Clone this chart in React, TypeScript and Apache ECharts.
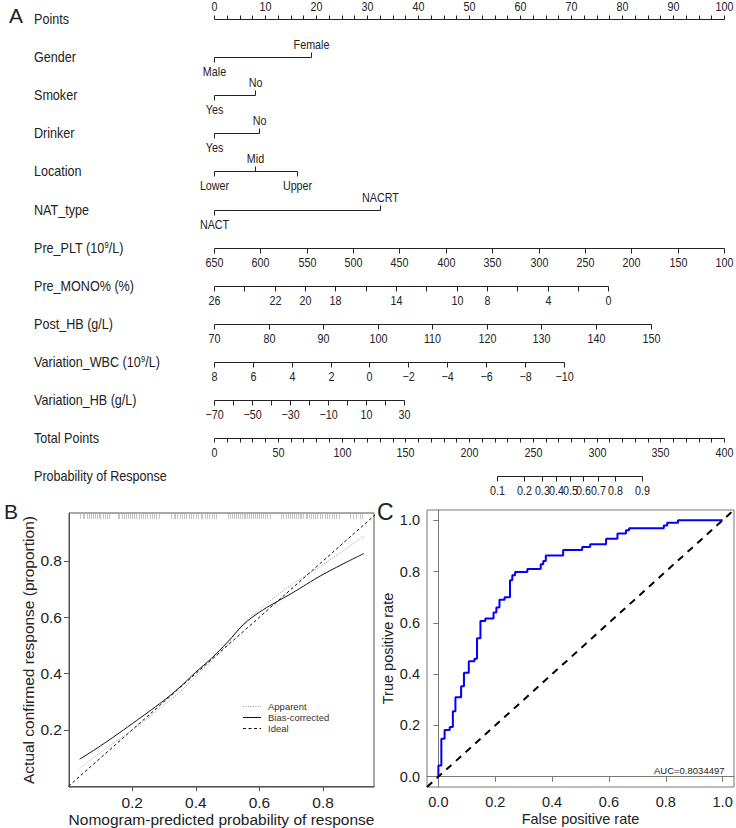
import React, { useEffect, useRef } from "react";
import * as echarts from "echarts";

// ---------------- Panel A: nomogram ----------------
const rowLabels = [
  "Points",
  "Gender",
  "Smoker",
  "Drinker",
  "Location",
  "NAT_type",
  "{t|Pre_PLT (10}{s|9}{t|/L)}",
  "Pre_MONO% (%)",
  "Post_HB (g/L)",
  "{t|Variation_WBC (10}{s|9}{t|/L)}",
  "Variation_HB (g/L)",
  "Total Points",
  "Probability of Response",
];

const pointsTicks = [
  0, 2.5, 5, 7.5, 10, 12.5, 15, 17.5, 20, 22.5, 25, 27.5, 30, 32.5, 35, 37.5, 40, 42.5, 45, 47.5, 50,
  52.5, 55, 57.5, 60, 62.5, 65, 67.5, 70, 72.5, 75, 77.5, 80, 82.5, 85, 87.5, 90, 92.5, 95, 97.5, 100,
];
const pointsLabels = [0, 10, 20, 30, 40, 50, 60, 70, 80, 90, 100];

const genderLevels = ["Male", "Female"];
const genderPoints = [0, 19];
const genderSide = ["below", "above"];

const smokerLevels = ["Yes", "No"];
const smokerPoints = [0, 8];
const smokerSide = ["below", "above"];

const drinkerLevels = ["Yes", "No"];
const drinkerPoints = [0, 8.9];
const drinkerSide = ["below", "above"];

const locationLevels = ["Lower", "Mid", "Upper"];
const locationPoints = [0, 8, 16.3];
const locationSide = ["below", "above", "below"];

const natLevels = ["NACT", "NACRT"];
const natPoints = [0, 32.6];
const natSide = ["below", "above"];

const pltRange = [650, 100];
const pltMaxPoints = 100;
const pltTicks = [650, 600, 550, 500, 450, 400, 350, 300, 250, 200, 150, 100];
const pltLabels = [650, 600, 550, 500, 450, 400, 350, 300, 250, 200, 150, 100];

const monoRange = [26, 0];
const monoMaxPoints = 77.3;
const monoTicks = [26, 24, 22, 20, 18, 16, 14, 12, 10, 8, 6, 4, 2, 0];
const monoLabels = [26, 22, 20, 18, 14, 10, 8, 4, 0];

const postHbRange = [70, 150];
const postHbMaxPoints = 85.6;
const postHbTicks = [70, 80, 90, 100, 110, 120, 130, 140, 150];
const postHbLabels = [70, 80, 90, 100, 110, 120, 130, 140, 150];

const wbcRange = [8, -10];
const wbcMaxPoints = 68.6;
const wbcTicks = [8, 6, 4, 2, 0, -2, -4, -6, -8, -10];
const wbcLabels = [8, 6, 4, 2, 0, -2, -4, -6, -8, -10];

const varHbRange = [-70, 30];
const varHbMaxPoints = 37.2;
const varHbTicks = [-70, -60, -50, -40, -30, -20, -10, 0, 10, 20, 30];
const varHbLabels = [-70, -50, -30, -10, 10, 30];

const totalMax = 400;
const totalTicks = [
  0, 10, 20, 30, 40, 50, 60, 70, 80, 90, 100, 110, 120, 130, 140, 150, 160, 170, 180, 190, 200, 210, 220,
  230, 240, 250, 260, 270, 280, 290, 300, 310, 320, 330, 340, 350, 360, 370, 380, 390, 400,
];
const totalLabels = [0, 50, 100, 150, 200, 250, 300, 350, 400];

const probTicks = [0.1, 0.2, 0.3, 0.4, 0.5, 0.6, 0.7, 0.8, 0.9];
const probCenterTotal = 278.9; // total points where P = 0.5
const probSlope = 0.03865; // logit per total point

// ---------------- Panel B: calibration ----------------
const calX = [0.035, 0.1, 0.2, 0.3, 0.35, 0.4, 0.45, 0.5, 0.55, 0.6, 0.65, 0.7, 0.8, 0.928];
const apparentY = [0.063, 0.12, 0.2, 0.288, 0.335, 0.39, 0.445, 0.505, 0.578, 0.628, 0.673, 0.715, 0.787, 0.888];
const biasY = [0.096, 0.143, 0.222, 0.305, 0.352, 0.405, 0.455, 0.512, 0.574, 0.618, 0.652, 0.684, 0.752, 0.826];
const legendNames = ["Apparent", "Bias-corrected", "Ideal"];
const predictedRug = [
  0.037, 0.045, 0.05, 0.058, 0.063, 0.07, 0.076, 0.082, 0.09, 0.095, 0.1, 0.108, 0.115, 0.12, 0.126,
  0.155, 0.16, 0.168, 0.175, 0.18, 0.186, 0.192, 0.2, 0.206, 0.212, 0.22, 0.228, 0.235, 0.24, 0.248,
  0.255, 0.262, 0.27, 0.276, 0.283, 0.322, 0.33, 0.336, 0.342, 0.35, 0.356, 0.362, 0.37, 0.378, 0.385,
  0.392, 0.4, 0.408, 0.415, 0.42, 0.428, 0.435, 0.442, 0.45, 0.458, 0.465, 0.502, 0.508, 0.515, 0.52,
  0.526, 0.532, 0.538, 0.545, 0.55, 0.556, 0.562, 0.568, 0.575, 0.58, 0.586, 0.592, 0.6, 0.606, 0.612,
  0.618, 0.625, 0.632, 0.668, 0.675, 0.682, 0.69, 0.696, 0.702, 0.708, 0.715, 0.72, 0.726, 0.732, 0.738,
  0.745, 0.75, 0.756, 0.762, 0.768, 0.775, 0.782, 0.79, 0.798, 0.805, 0.812, 0.82, 0.828, 0.835, 0.842,
  0.85, 0.885, 0.895, 0.905, 0.915, 0.922,
];

// ---------------- Panel C: ROC ----------------
const rocFpr = [
  0, 0, 0.0105, 0.022, 0.04, 0.051, 0.06, 0.08, 0.09, 0.107, 0.127, 0.136, 0.148, 0.165, 0.194, 0.204,
  0.215, 0.233, 0.252, 0.26, 0.27, 0.313, 0.36, 0.369, 0.378, 0.439, 0.506, 0.534, 0.59, 0.63, 0.66,
  0.671, 0.793, 0.805, 0.843, 1.0,
];
const rocTpr = [
  0, 0.044, 0.148, 0.182, 0.194, 0.255, 0.31, 0.353, 0.405, 0.45, 0.46, 0.54, 0.607, 0.617, 0.64, 0.66,
  0.69, 0.7, 0.766, 0.786, 0.798, 0.81, 0.828, 0.841, 0.863, 0.884, 0.896, 0.906, 0.928, 0.948, 0.961,
  0.969, 0.98, 0.99, 1.0, 1.0,
];
const aucText = "AUC=0.8034497";

// ---------------- layout / style ----------------
const SANS = '"Liberation Sans",Arial,Helvetica,sans-serif';
const INK = "#222";
const ROW_TOP = 19;
const ROW_GAP = 38.1;
const NARROW_SCALE = 0.9;

type Tick = { pts: number; label?: string; side: "above" | "below" };
type Row = { label: string; ticks: Tick[]; tickLen: number };

function fmt(v: number) {
  return v < 0 ? "\u2212" + Math.abs(v) : String(v);
}

function contRow(label: string, range: number[], maxPts: number, ticks: number[], labels: number[]): Row {
  const toPts = (v: number) => ((v - range[0]) / (range[1] - range[0])) * maxPts;
  return {
    label,
    tickLen: 5,
    ticks: ticks.map((v) => ({
      pts: toPts(v),
      label: labels.indexOf(v) >= 0 ? fmt(v) : undefined,
      side: "below" as const,
    })),
  };
}

function catRow(label: string, levels: string[], pts: number[], sides: string[]): Row {
  return {
    label,
    tickLen: 5,
    ticks: levels.map((l, i) => ({ pts: pts[i], label: l, side: sides[i] as "above" | "below" })),
  };
}

function buildRows(): Row[] {
  const logit = (p: number) => Math.log(p / (1 - p));
  return [
    {
      label: rowLabels[0],
      tickLen: 4,
      ticks: pointsTicks.map((v) => ({
        pts: v,
        label: pointsLabels.indexOf(v) >= 0 ? String(v) : undefined,
        side: "above" as const,
      })),
    },
    catRow(rowLabels[1], genderLevels, genderPoints, genderSide),
    catRow(rowLabels[2], smokerLevels, smokerPoints, smokerSide),
    catRow(rowLabels[3], drinkerLevels, drinkerPoints, drinkerSide),
    catRow(rowLabels[4], locationLevels, locationPoints, locationSide),
    catRow(rowLabels[5], natLevels, natPoints, natSide),
    contRow(rowLabels[6], pltRange, pltMaxPoints, pltTicks, pltLabels),
    contRow(rowLabels[7], monoRange, monoMaxPoints, monoTicks, monoLabels),
    contRow(rowLabels[8], postHbRange, postHbMaxPoints, postHbTicks, postHbLabels),
    contRow(rowLabels[9], wbcRange, wbcMaxPoints, wbcTicks, wbcLabels),
    contRow(rowLabels[10], varHbRange, varHbMaxPoints, varHbTicks, varHbLabels),
    {
      label: rowLabels[11],
      tickLen: 4,
      ticks: totalTicks.map((v) => ({
        pts: (v / totalMax) * 100,
        label: totalLabels.indexOf(v) >= 0 ? String(v) : undefined,
        side: "below" as const,
      })),
    },
    {
      label: rowLabels[12],
      tickLen: 5,
      ticks: probTicks.map((p) => ({
        pts: ((probCenterTotal + logit(p) / probSlope) / totalMax) * 100,
        label: String(p),
        side: "below" as const,
      })),
    },
  ];
}

function buildOption(): any {
  const rows = buildRows();

  const renderNomogramRow = (params: any, api: any) => {
    const i = api.value(0);
    const row = rows[i];
    const y = Math.round(ROW_TOP + ROW_GAP * i) + 0.5;
    const px = (p: number) => Math.round(api.coord([p, 0])[0]) + 0.5;
    const xs = row.ticks.map((t) => px(t.pts));
    const children: any[] = [];
    children.push({
      type: "text",
      x: 34,
      y: y,
      scaleX: NARROW_SCALE,
      style: {
        text: row.label,
        x: 0,
        y: 0,
        align: "left",
        verticalAlign: "middle",
        fill: INK,
        fontSize: 14,
        fontFamily: SANS,
        rich: {
          t: { fontSize: 14, fontFamily: SANS, fill: INK, lineHeight: 16 },
          s: { fontSize: 8.5, fontFamily: SANS, fill: INK, verticalAlign: "top", lineHeight: 16 },
        },
      },
    });
    children.push({
      type: "line",
      shape: { x1: Math.min(...xs), y1: y, x2: Math.max(...xs), y2: y },
      style: { stroke: INK, lineWidth: 1 },
    });
    row.ticks.forEach((t, k) => {
      const x = xs[k];
      const dir = t.side === "above" ? -1 : 1;
      children.push({
        type: "line",
        shape: { x1: x, y1: y, x2: x, y2: y + dir * row.tickLen },
        style: { stroke: INK, lineWidth: 1 },
      });
      if (t.label !== undefined) {
        children.push({
          type: "text",
          x,
          y: y + dir * 13.5,
          scaleX: 0.86,
          style: {
            text: t.label,
            x: 0,
            y: 0,
            align: "center",
            verticalAlign: "middle",
            fill: INK,
            fontSize: 12.5,
            fontFamily: SANS,
          },
        });
      }
    });
    return { type: "group", children };
  };

  const renderRug = (params: any, api: any) => {
    const p = api.coord([api.value(0), api.value(1)]);
    const x = Math.round(p[0]) + 0.5;
    return {
      type: "line",
      shape: { x1: x, y1: p[1] + 1, x2: x, y2: p[1] + 6 },
      style: { stroke: "#c4c4c4", lineWidth: 1 },
    };
  };

  const bAxisColor = "#555";
  const cAxisColor = "#777";
  const bTicks = [0.2, 0.4, 0.6, 0.8];
  const cTicks = [0, 0.2, 0.4, 0.6, 0.8, 1.0];
  const bYMax = 0.97;

  const axisCommon = (color: string, values: number[], fs: number) => ({
    type: "value",
    axisLine: { show: true, lineStyle: { color, width: 1 } },
    axisTick: { show: true, length: 5, lineStyle: { color }, customValues: values },
    axisLabel: {
      customValues: values,
      formatter: (v: number) => v.toFixed(1),
      color: INK,
      fontSize: fs,
      fontFamily: SANS,
      margin: 7,
    },
    splitLine: { show: false },
    nameLocation: "middle",
    nameTextStyle: { color: INK, fontSize: fs, fontFamily: SANS },
  });

  const legendStyles = [
    { stroke: "#999", lineDash: [1, 1.5] },
    { stroke: "#111", lineDash: null },
    { stroke: "#111", lineDash: [3, 2.5] },
  ];
  const legendGraphics: any[] = [];
  legendNames.forEach((n, k) => {
    const ly = 706 + k * 11;
    legendGraphics.push({
      type: "line",
      shape: { x1: 243, y1: ly + 0.5, x2: 261, y2: ly + 0.5 },
      style: { stroke: legendStyles[k].stroke, lineWidth: 1, lineDash: legendStyles[k].lineDash },
    });
    legendGraphics.push({
      type: "text",
      x: 268,
      y: ly,
      style: {
        text: n,
        fontSize: 9.5,
        fontFamily: SANS,
        fill: "#333",
        align: "left",
        verticalAlign: "middle",
      },
    });
  });

  return {
    animation: false,
    backgroundColor: "#ffffff",
    textStyle: { fontFamily: SANS },
    grid: [
      { left: 214, right: 12, top: 0, height: 500, show: false },
      { left: 69, right: 362, top: 513, bottom: 40, show: true, borderColor: bAxisColor, borderWidth: 1 },
      { left: 427, right: 2, top: 510, bottom: 41, show: true, borderColor: cAxisColor, borderWidth: 1 },
    ],
    xAxis: [
      { gridIndex: 0, type: "value", min: 0, max: 100, show: false },
      {
        ...axisCommon(bAxisColor, bTicks, 15.5),
        gridIndex: 1,
        min: 0.0015,
        max: 0.96,
        name: "Nomogram-predicted probability of response",
        nameGap: 23,
      },
      {
        ...axisCommon(cAxisColor, cTicks, 14.5),
        gridIndex: 2,
        min: -0.04,
        max: 1.04,
        name: "False positive rate",
        nameGap: 24,
      },
    ],
    yAxis: [
      { gridIndex: 0, type: "value", min: 0, max: 1, show: false },
      {
        ...axisCommon(bAxisColor, bTicks, 15.5),
        gridIndex: 1,
        min: -0.003,
        max: bYMax,
        name: "Actual confirmed response (proportion)",
        nameGap: 27,
      },
      {
        ...axisCommon(cAxisColor, cTicks, 14.5),
        gridIndex: 2,
        min: -0.04,
        max: 1.04,
        name: "True positive rate",
        nameGap: 30,
      },
    ],
    graphic: [
      { type: "text", left: 9, top: 5, style: { text: "A", fontSize: 21, fontFamily: SANS, fill: INK } },
      { type: "text", left: 4, top: 501, style: { text: "B", fontSize: 21, fontFamily: SANS, fill: INK } },
      { type: "text", left: 377, top: 500, style: { text: "C", fontSize: 23, fontFamily: SANS, fill: INK } },
      {
        type: "text",
        left: 654,
        top: 765,
        style: { text: aucText, fontSize: 9.5, fontFamily: SANS, fill: INK },
      },
      ...legendGraphics,
    ],
    series: [
      {
        type: "custom",
        name: "nomogram",
        xAxisIndex: 0,
        yAxisIndex: 0,
        silent: true,
        clip: false,
        renderItem: renderNomogramRow,
        data: rows.map((_, i) => [i, 0]),
      },
      {
        type: "custom",
        name: "rug",
        xAxisIndex: 1,
        yAxisIndex: 1,
        silent: true,
        renderItem: renderRug,
        data: predictedRug.map((v) => [v, bYMax]),
      },
      {
        type: "line",
        name: legendNames[0],
        xAxisIndex: 1,
        yAxisIndex: 1,
        smooth: 0.4,
        symbol: "none",
        lineStyle: { color: "#9a9a9a", width: 1, type: [1, 1.5] },
        data: calX.map((x, i) => [x, apparentY[i]]),
      },
      {
        type: "line",
        name: legendNames[1],
        xAxisIndex: 1,
        yAxisIndex: 1,
        smooth: 0.4,
        symbol: "none",
        lineStyle: { color: "#111", width: 1, type: "solid" },
        data: calX.map((x, i) => [x, biasY[i]]),
      },
      {
        type: "line",
        name: legendNames[2],
        xAxisIndex: 1,
        yAxisIndex: 1,
        symbol: "none",
        lineStyle: { color: "#111", width: 1, type: [3, 2.5] },
        data: [
          [0, 0],
          [1, 1],
        ],
      },
      {
        type: "line",
        name: "ROC",
        xAxisIndex: 2,
        yAxisIndex: 2,
        step: "end",
        symbol: "none",
        lineStyle: { color: "#0000ff", width: 2 },
        data: rocFpr.map((x, i) => [x, rocTpr[i]]),
      },
      {
        type: "line",
        name: "chance",
        xAxisIndex: 2,
        yAxisIndex: 2,
        symbol: "none",
        lineStyle: { color: "#000", width: 2, type: [7, 6] },
        data: [
          [-0.04, -0.04],
          [1.04, 1.04],
        ],
      },
    ],
  };
}

export default function App() {
  const ref = useRef<HTMLDivElement>(null);
  useEffect(() => {
    document.body.style.margin = "0";
    const chart = echarts.init(ref.current!, null, { renderer: "svg" });
    chart.setOption(buildOption());
    return () => chart.dispose();
  }, []);
  return <div ref={ref} style={{ width: 736, height: 828 }} />;
}
